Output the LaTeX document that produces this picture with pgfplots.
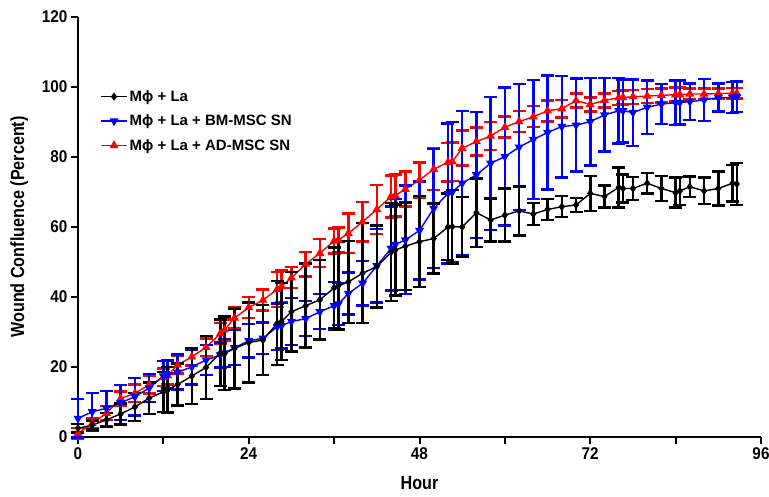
\documentclass[border=0pt]{standalone}
\usepackage{fontspec}
\setmainfont{Liberation Sans}
\newfontfamily\tickfont[FakeStretch=0.9]{Liberation Sans}
\newfontfamily\labfont[FakeStretch=0.85]{Liberation Sans}
\usepackage{pgfplots}
\usepackage{pgfplotstable}
\pgfplotsset{compat=1.18}
\usetikzlibrary{calc}

% t = hour, v = mean confluence, e = error
\pgfplotstableread{
t v e
0 2.5 1.2
2 3.4 1.3
4 4.9 2
6 6.6 3
8 8.6 4
10 11.1 4.5
12 12.9 5.7
12.6 13.5 6.5
14 15 6
16 17.4 8
18 19.9 9
20 24 9.5
20.6 23.9 10.5
22 25.3 11.4
24 27 11.4
26 27.7 10
28 32.5 12
28.6 33 11
30 35.8 11.4
32 37.5 12
34 39.2 11.3
36 42.6 11.5
36.6 43.2 12.5
38 44.3 11.7
40 46.8 14.3
42 48.7 11.7
44 52.8 14
44.6 53.4 13
46 54.5 12.5
48 55.8 13
50 56.7 10
52 60 9.5
52.6 60.1 10.5
54 60 8.5
56 64.1 9.8
58 62 6.2
60 63.4 7.6
62 64.6 7
64 63.7 3.2
66 65 3
68 65.8 3
70 66.3 2
72 69.6 5
74 68.7 3.2
76 71.3 5.7
76.6 71 4
78 71 3.3
80 72.5 2.9
82 71 3.6
84 69.8 4.3
84.6 70.3 4
86 71.5 2.9
88 70.3 3.8
90 71 4.9
92 72.5 5.2
92.6 72.3 6
}\blacktab

\pgfplotstableread{
t v e
0 5.3 5.5
2 7.2 5.3
4 8.2 5
6 9.8 5
8 11.5 5.3
10 14 4
12 17.4 4.3
12.6 17.8 4
14 18.5 5
16 20 5
18 22 4.3
20 23.4 3.6
20.6 24 4
22 25.5 5
24 27.5 4.8
26 28.2 4.5
28 31.5 6.7
28.6 31.8 6.5
30 33 6.7
32 33.8 5
34 35.8 5
36 37.5 6.8
36.6 38 6
38 41 6
40 43.9 6.4
42 48.9 10.5
44 53.9 12
44.6 55 13
46 56.3 15.5
48 59 14
50 65.3 17
52 69.6 20
52.6 70 20
54 72.5 20.6
56 74.9 18
58 78.2 19
60 80.1 19.7
62 82.8 18
64 85 17
66 87 16.3
68 88.7 14.5
70 89.1 13.3
72 90.1 12.5
74 92 10.5
76 93.2 9.4
76.6 93.2 9
78 92.7 9.5
80 94.2 7.6
82 95.1 5.7
84 95.5 6.3
84.6 95.6 6.3
86 95.8 5.2
88 96.3 6
90 97 4
92 97 4.4
92.6 97.2 4.4
}\bluetab

\pgfplotstableread{
t v e
0 1 1.5
2 3.9 1.5
4 6.8 2
6 11 2
8 12.5 2.5
10 14.9 2.5
12 17 2.5
12.6 17.5 2.5
14 20.6 2.5
16 22.9 2.5
18 25.6 2.5
20 29.5 3
20.6 30.6 3
22 34 3
24 37 3
26 39.1 3
28 42.2 5
28.6 43 4.5
30 45.5 3
32 49.4 3.5
34 52.5 4
36 56 3.6
36.6 56.3 3.6
38 58.2 5.7
40 61.5 5.7
42 65 7
44 68.7 6
44.6 69 6
46 70.8 5
48 73.4 5
50 76.5 6
52 78.5 5.5
52.6 78.7 5.5
54 82.5 5
56 84.4 4
58 86 4
60 88.5 3
62 90.1 3
64 91.5 3
66 93.2 3
68 93.8 2.5
70 96.1 2
72 95 2
74 96.2 2
76 96.9 2
76.6 97 2
78 97.2 2
80 97.4 2
82 97.6 2
84 97.8 2
84.6 97.8 2
86 98 1.5
88 98 1.5
90 98.1 1.5
92 98.2 1.5
92.6 98.2 1.5
}\redtab

\begin{document}
\begin{tikzpicture}
\begin{axis}[
    name=ax,
    scale only axis,
    width=683pt, height=420pt,
    xmin=0, xmax=96, ymin=0, ymax=120,
    xtick={0,24,...,96},
    ytick={0,20,...,120},
    minor x tick num=1,
    axis x line=bottom, axis y line=left,
    axis line style={-, line width=2.5pt},
    tick align=outside,
    major tick length=7pt, minor tick length=7pt,
    tick style={line width=2pt, black},
    tick label style={font=\tickfont\bfseries\fontsize{17}{17}\selectfont},
    /pgf/number format/assume math mode=true,
    xlabel={Hour},
    ylabel={Wound Confluence (Percent)},
    label style={font=\labfont\bfseries\fontsize{19}{19}\selectfont},
    xlabel style={at={(axis description cs:0.5,-0.11)}, anchor=center},
    ylabel style={at={(axis description cs:-0.086,0.5)}, anchor=center},
    clip=false,
    reverse legend,
    legend style={draw=none, fill=none, at={(0.028,0.835)}, anchor=north west,
        font=\bfseries\fontsize{15}{18}\selectfont, row sep=8pt,
        cells={anchor=west}},
    legend image code/.code={
        \draw[mark repeat=2, mark phase=2, #1]
            plot coordinates {(0pt,0pt) (13pt,0pt) (26pt,0pt)};},
    error bars/y dir=both,
    error bars/y explicit,
    ]
\addplot[red, line width=1.4pt, mark=triangle*, mark size=3.8pt,
    mark options={solid},
    error bars/error bar style={line width=2.5pt, red},
    error bars/error mark options={rotate=90, mark size=6.5pt, line width=2.5pt, red}]
    table[x=t, y=v, y error=e] {\redtab};
\addlegendentry{Mϕ + La + AD-MSC SN}
\addplot[blue, line width=1.4pt, mark=triangle*, mark size=3.8pt,
    mark options={solid, rotate=180},
    error bars/error bar style={line width=2.5pt, blue},
    error bars/error mark options={rotate=90, mark size=6.5pt, line width=2.5pt, blue}]
    table[x=t, y=v, y error=e] {\bluetab};
\addlegendentry{Mϕ + La + BM-MSC SN}
\addplot[black, line width=1.4pt, mark=diamond*, mark size=3pt,
    mark options={solid},
    error bars/error bar style={line width=2.5pt, black},
    error bars/error mark options={rotate=90, mark size=6.5pt, line width=2.5pt, black}]
    table[x=t, y=v, y error=e] {\blacktab};
\addlegendentry{Mϕ + La}
\end{axis}
\pgfresetboundingbox
\path[use as bounding box] ($(ax.south west)+(-78pt,-60pt)$) rectangle ($(ax.south west)+(691pt,437pt)$);
\end{tikzpicture}
\end{document}
